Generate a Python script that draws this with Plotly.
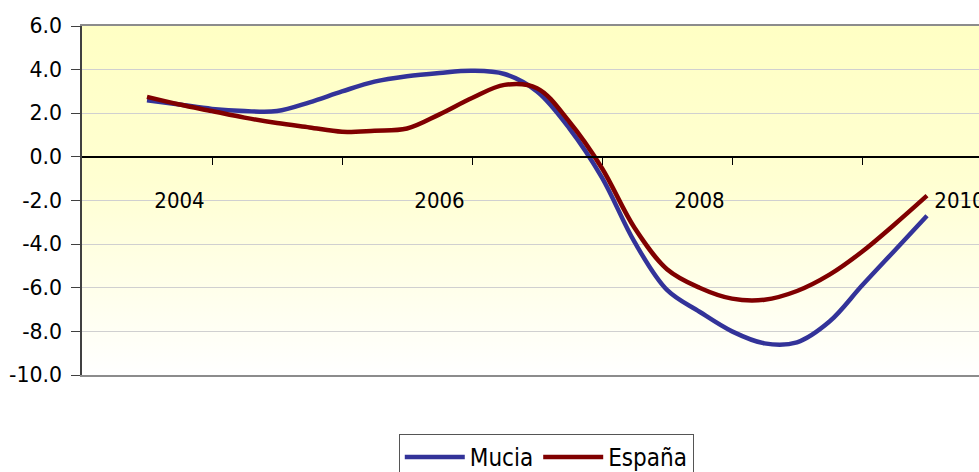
import base64
import plotly.graph_objects as go

# ---- data (quarterly) ----
periods = [2003.75, 2004.0, 2004.25, 2004.5, 2004.75, 2005.0, 2005.25, 2005.5, 2005.75,
           2006.0, 2006.25, 2006.5, 2006.75, 2007.0, 2007.25, 2007.5, 2007.75,
           2008.0, 2008.25, 2008.5, 2008.75, 2009.0, 2009.25, 2009.5, 2009.75]
mucia = [2.6, 2.4, 2.2, 2.1, 2.1, 2.5, 3.0, 3.45, 3.7, 3.85, 3.95, 3.8, 3.0, 1.3,
         -0.95, -3.9, -6.1, -7.1, -8.0, -8.55, -8.5, -7.55, -5.9, -4.3, -2.7]
espana = [2.75, 2.4, 2.1, 1.8, 1.55, 1.35, 1.15, 1.2, 1.3, 1.95, 2.7, 3.3, 3.15, 1.6,
          -0.52, -3.25, -5.15, -6.0, -6.5, -6.55, -6.15, -5.4, -4.35, -3.1, -1.78]
series_names = ["Mucia", "España"]
series_colors = ["#333399", "#800000"]
year_labels = ["2004", "2006", "2008", "2010"]
year_label_pos = [2004.0, 2006.0, 2008.0, 2010.0]
year_tick_pos = [2004.25, 2005.25, 2006.25, 2007.25, 2008.25, 2009.25, 2010.25]
y_tick_vals = [-10, -8, -6, -4, -2, 0, 2, 4, 6]
y_tick_text = ["-10.0", "-8.0", "-6.0", "-4.0", "-2.0", "0.0", "2.0", "4.0", "6.0"]

# ---- gradient background (light yellow to white) ----
svg = ('<svg xmlns="http://www.w3.org/2000/svg" width="100" height="100" preserveAspectRatio="none">'
       '<defs><linearGradient id="g" x1="0" y1="0" x2="0" y2="1">'
       '<stop offset="0" stop-color="#FFFFC4"/>'
       '<stop offset="0.45" stop-color="#FFFFD2"/>'
       '<stop offset="1" stop-color="#FFFFFF"/>'
       '</linearGradient></defs>'
       '<rect width="100" height="100" fill="url(#g)"/></svg>')
svg_uri = "data:image/svg+xml;base64," + base64.b64encode(svg.encode()).decode()

fig = go.Figure()
for name, vals, col, xa in zip(series_names, [mucia, espana], series_colors, ["x", "x2"]):
    fig.add_trace(go.Scatter(
        x=periods, y=vals, name=name, mode="lines", xaxis=xa, yaxis="y",
        line=dict(color=col, width=4.5, shape="spline", smoothing=1.0),
    ))

xrange = [2003.25, 2010.15]
legend_font = dict(family="DejaVu Sans Condensed, DejaVu Sans", size=24, color="#000000")
fig.update_layout(
    width=979, height=472,
    margin=dict(l=82, r=0, t=26, b=97, autoexpand=False),
    paper_bgcolor="white",
    plot_bgcolor="rgba(0,0,0,0)",
    images=[dict(source=svg_uri, xref="paper", yref="paper", x=0, y=1,
                 sizex=1, sizey=1, sizing="stretch", xanchor="left",
                 yanchor="top", layer="below")],
    xaxis=dict(range=xrange, showline=True, linecolor="#8C8C8C", linewidth=1.5,
               mirror=True, ticks="", showticklabels=False, showgrid=False,
               zeroline=False, automargin=False),
    xaxis2=dict(overlaying="x", matches="x", anchor="free", position=0.625,
                range=xrange, showline=True, linecolor="#000000", linewidth=1.5,
                showgrid=False, zeroline=False, automargin=False,
                tickmode="array", tickvals=year_label_pos, ticktext=year_labels,
                ticks="", ticklabelstandoff=24, ticklabeloverflow="allow",
                tickfont=dict(family="DejaVu Sans Condensed, DejaVu Sans", size=22,
                              color="#000000"),
                minor=dict(tickmode="array", tickvals=year_tick_pos, ticks="outside",
                           ticklen=7, tickcolor="#000000", tickwidth=1.2,
                           showgrid=False)),
    yaxis=dict(range=[-10, 6], tickmode="array", tickvals=y_tick_vals,
               ticktext=y_tick_text, showline=True, automargin=False,
               linecolor="#404040", linewidth=1.5, ticks="outside", ticklen=9,
               tickcolor="#404040", ticklabelstandoff=5,
               gridcolor="#D0D0D0", gridwidth=1, zeroline=False,
               tickfont=dict(family="DejaVu Sans", size=20.5, color="#000000")),
    legend=dict(orientation="h", xref="container", yref="container",
                x=0.558, xanchor="center", y=0.0805, yanchor="top",
                bordercolor="#555555", borderwidth=1, bgcolor="white",
                itemwidth=60, font=legend_font),
    showlegend=True,
)

fig.write_html("out.html", config={"displayModeBar": False},
               post_script="document.body.style.margin='0';document.body.style.overflow='hidden';")
